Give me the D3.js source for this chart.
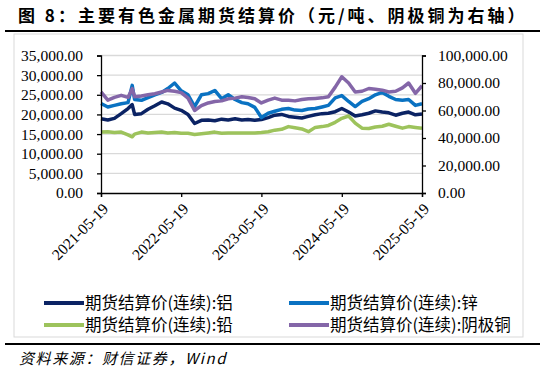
<!DOCTYPE html>
<html>
<head>
<meta charset="utf-8">
<script src="https://cdn.jsdelivr.net/npm/d3@7"></script>
<style>
  body { margin: 0; background: #fff; }
  svg { display: block; }
</style>
</head>
<body>
<svg width="543" height="375"></svg>
<script>
// monthly settle prices (plus the Oct-2021 spike)
const dates = ["2021-05-19","2021-06-19","2021-07-19","2021-08-19","2021-09-19","2021-10-08","2021-10-19","2021-11-19","2021-12-19",
  "2022-01-19","2022-02-19","2022-03-19","2022-04-19","2022-05-19","2022-06-19","2022-07-19","2022-08-19","2022-09-19","2022-10-19",
  "2022-11-19","2022-12-19","2023-01-19","2023-02-19","2023-03-19","2023-04-19","2023-05-19","2023-06-19","2023-07-19","2023-08-19",
  "2023-09-19","2023-10-19","2023-11-19","2023-12-19","2024-01-19","2024-02-19","2024-03-19","2024-04-19","2024-05-19","2024-06-19",
  "2024-07-19","2024-08-19","2024-09-19","2024-10-19","2024-11-19","2024-12-19","2025-01-19","2025-02-19","2025-03-19","2025-04-19","2025-05-19"];

const aluminium = [18900,18600,19000,20200,21500,22500,20000,20200,21300,22200,23150,22700,21600,21050,20000,17700,18500,18600,18400,
  18800,18600,18900,18600,18700,18500,18700,19200,19800,20000,19500,19300,19100,19500,19900,20200,20300,20700,21500,20600,
  19600,19900,20300,20900,20600,20400,19800,20300,20600,19900,20100];

const zinc = [22800,21900,22300,22700,23000,27400,23800,23600,24300,25000,25600,26600,28000,26000,25000,22000,25000,25300,26100,
  24000,25000,23800,23000,22700,21800,19200,20300,20800,21300,21500,21100,21000,21400,21500,21900,22300,24200,24800,23300,
  22000,23300,24000,25000,25600,24600,23800,23600,23800,22300,22700];

const lead = [15500,15600,15400,15500,14800,14300,15000,15500,15300,15400,15500,15300,15400,15200,15200,14900,15100,15300,15500,
  15200,15300,15300,15300,15300,15300,15400,15600,16000,16200,16900,16600,16300,15600,16700,16900,17200,18000,19000,19600,
  17800,16500,16400,16800,17000,17500,17000,16500,16900,16700,16500];

const copper = [73500,67500,69500,71000,69500,75900,70000,70500,71500,72200,73500,74600,74000,73000,69000,60000,63500,65500,66500,
  67000,68500,69000,70000,69500,68500,65500,67500,69000,67500,67500,67000,68000,68500,68800,69200,70000,77000,84500,80000,
  73500,74000,76000,75500,74800,73500,74000,76500,80000,72500,78000];

const xTicks = ["2021-05-19","2022-05-19","2023-05-19","2024-05-19","2025-05-19"];
const leftTicks = [0,5000,10000,15000,20000,25000,30000,35000];
const rightTicks = [0,20000,40000,60000,80000,100000];

const series = [
  {name: "期货结算价(连续):铝", values: aluminium, axis: "left", color: "#0b2364"},
  {name: "期货结算价(连续):锌", values: zinc, axis: "left", color: "#0a72c2"},
  {name: "期货结算价(连续):铅", values: lead, axis: "left", color: "#9dc35c"},
  {name: "期货结算价(连续):阴极铜", values: copper, axis: "right", color: "#8466a8"}
];

const parse = d3.timeParse("%Y-%m-%d");
const svg = d3.select("svg");
const serif = "'Liberation Serif','Times New Roman',serif";
const cjk = "'Noto Sans CJK SC','Noto Sans',sans-serif";

// frame
svg.append("rect").attr("x", 14).attr("y", 34).attr("width", 509).attr("height", 303)
  .attr("fill", "#fff").attr("stroke", "#d9d9d9");
svg.append("line").attr("x1", 5).attr("x2", 540).attr("y1", 31).attr("y2", 31).attr("stroke", "#000").attr("stroke-width", 2);
svg.append("line").attr("x1", 5).attr("x2", 540).attr("y1", 344).attr("y2", 344).attr("stroke", "#000").attr("stroke-width", 2);

svg.append("text").attr("x", 18).attr("y", 22)
  .style("font-family", cjk).style("font-weight", "bold").style("font-size", "17px")
  .style("letter-spacing", "3px").text("图 8：主要有色金属期货结算价（元/吨、阴极铜为右轴）");

svg.append("text").attr("x", 19).attr("y", 364)
  .style("font-family", cjk).style("font-style", "italic").style("font-size", "15px")
  .style("letter-spacing", "1.6px")
  .text("资料来源：财信证券，Wind");

// scales
const x = d3.scaleTime().domain([parse("2021-05-19"), parse("2025-05-19")]).range([101, 422]);
const yL = d3.scaleLinear().domain([0, 35000]).range([193, 55.5]);
const yR = d3.scaleLinear().domain([0, 100000]).range([193, 55.5]);

// grid
svg.append("g").selectAll("line").data(leftTicks.slice(1)).join("line")
  .attr("x1", 101).attr("x2", 422).attr("y1", d => yL(d)).attr("y2", d => yL(d))
  .attr("stroke", "#d9d9d9").attr("stroke-width", 1.3);

// lines
const pts = dates.map(parse);
series.forEach(s => {
  const y = s.axis === "left" ? yL : yR;
  svg.append("path")
    .datum(s.values)
    .attr("fill", "none")
    .attr("stroke", s.color)
    .attr("stroke-width", 3.5)
    .attr("stroke-linejoin", "round")
    .attr("d", d3.line().x((d, i) => x(pts[i])).y(d => y(d)));
});

// axes
const fmt = d3.format(",.2f");
const gL = svg.append("g").attr("transform", "translate(101,0)")
  .call(d3.axisLeft(yL).tickValues(leftTicks).tickFormat(fmt).tickSizeOuter(0).tickSize(4).tickPadding(14));
const gR = svg.append("g").attr("transform", "translate(422,0)")
  .call(d3.axisRight(yR).tickValues(rightTicks).tickFormat(fmt).tickSizeOuter(0).tickSize(4).tickPadding(12));
const gX = svg.append("g").attr("transform", "translate(0,193)")
  .call(d3.axisBottom(x).tickValues(xTicks.map(parse)).tickFormat(d3.timeFormat("%Y-%m-%d")).tickSizeOuter(0).tickSize(4));

[gL, gR, gX].forEach(g => {
  g.selectAll(".domain").attr("stroke", "#000").attr("stroke-width", 1.3);
  g.selectAll(".tick line").attr("stroke", "#000").attr("stroke-width", 1.3);
  g.selectAll("text").style("font-family", serif).style("font-size", "15.5px").attr("fill", "#000");
});
gX.selectAll("text")
  .attr("text-anchor", "end")
  .attr("dy", "0.35em")
  .attr("transform", "translate(4,13) rotate(-45)")
  .attr("y", 0).attr("x", 0);

// legend
const legendPos = [[44, 303], [289, 303], [44, 325], [289, 325]];
const leg = svg.append("g").selectAll("g").data(series).join("g")
  .attr("transform", (d, i) => `translate(${legendPos[i][0]},${legendPos[i][1]})`);
leg.append("line").attr("x1", 0).attr("x2", 40).attr("stroke", d => d.color).attr("stroke-width", 4);
leg.append("text").attr("x", 41).attr("dy", "0.35em")
  .style("font-family", cjk).style("font-size", "16.5px").attr("fill", "#000")
  .text(d => d.name);
</script>
</body>
</html>
